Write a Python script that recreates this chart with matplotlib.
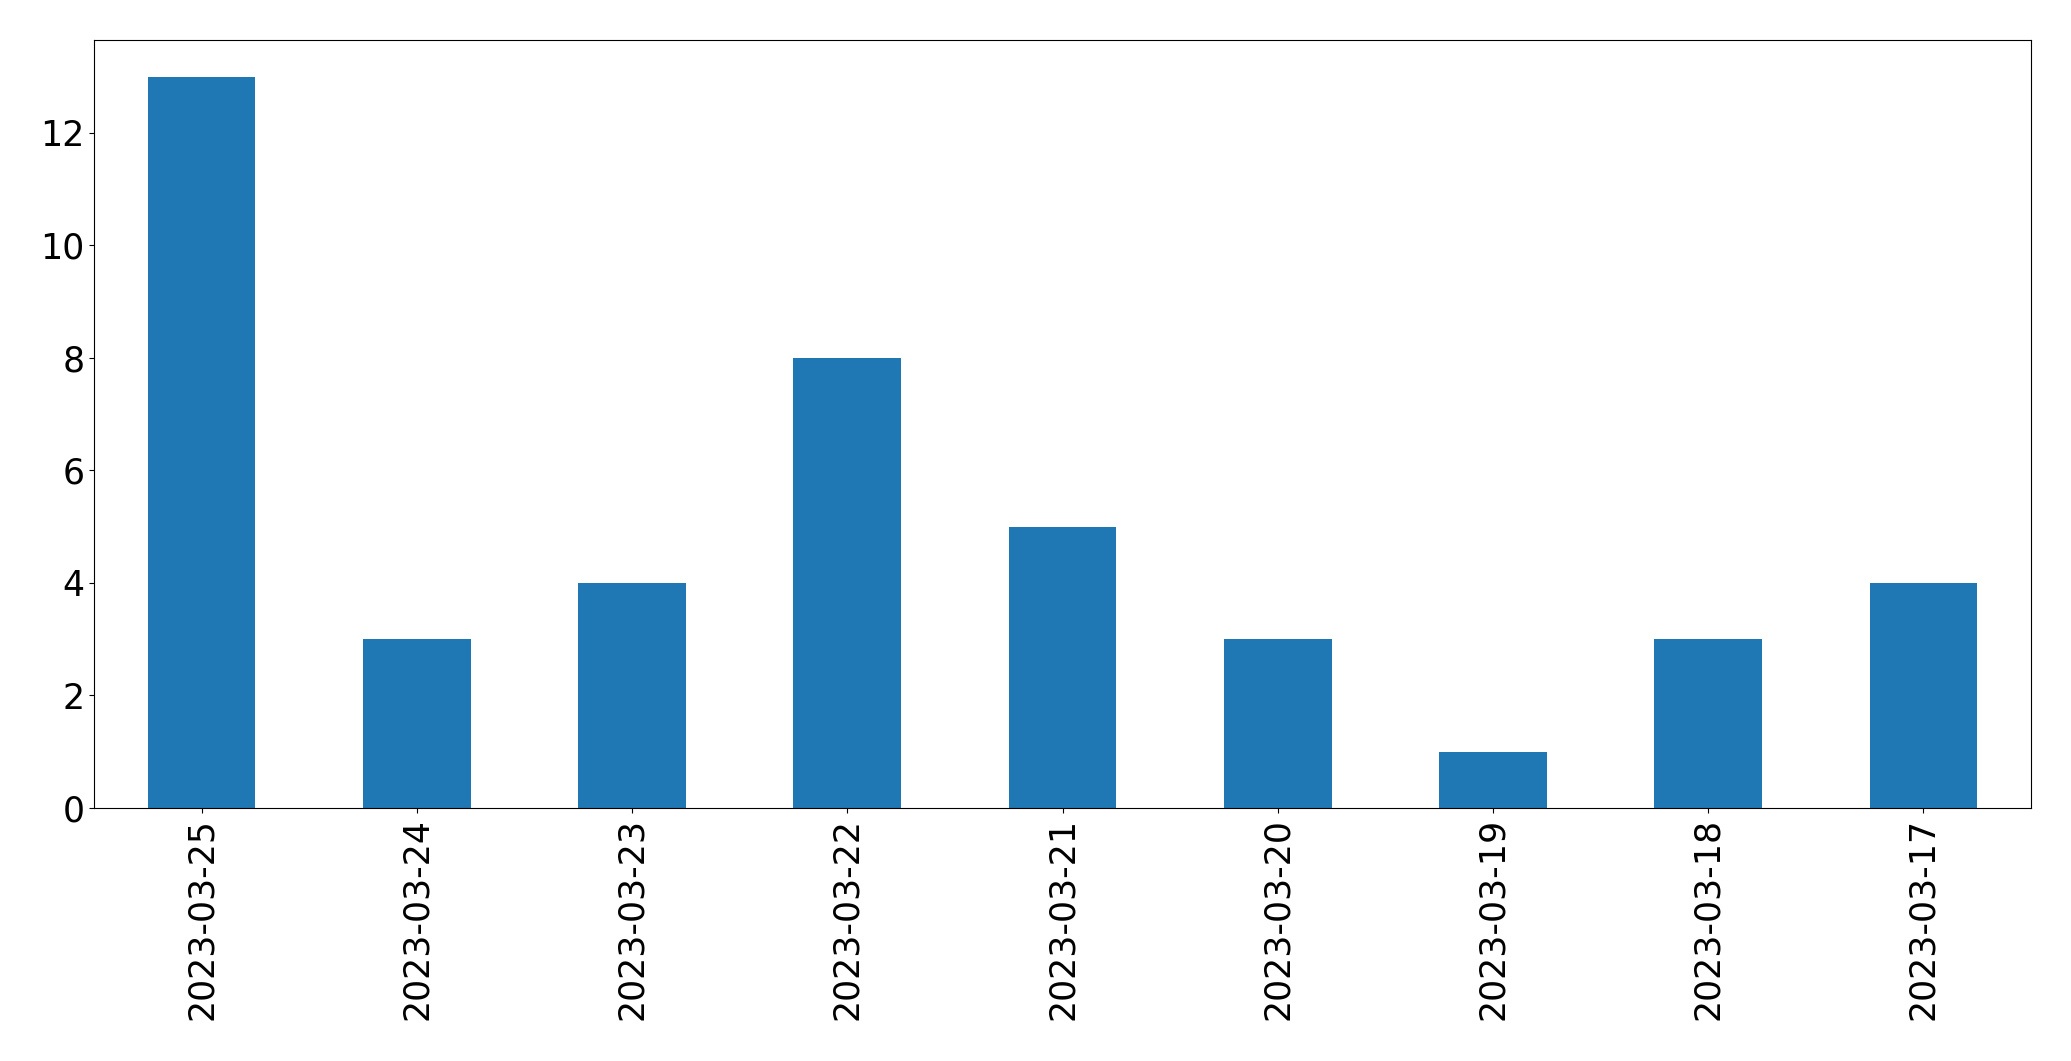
import matplotlib.pyplot as plt
import pandas as pd

dates = ['2023-03-25', '2023-03-24', '2023-03-23', '2023-03-22', '2023-03-21',
         '2023-03-20', '2023-03-19', '2023-03-18', '2023-03-17']
counts = [13, 3, 4, 8, 5, 3, 1, 3, 4]

s = pd.Series(counts, index=dates)

fig, ax = plt.subplots(figsize=(20.71, 10.61), dpi=100)
s.plot(kind='bar', ax=ax, color='#1f77b4', fontsize=25)
plt.subplots_adjust(left=94/2071, right=2031/2071, top=1-40/1061, bottom=1-808/1061)
plt.savefig('out.png', dpi=100)
